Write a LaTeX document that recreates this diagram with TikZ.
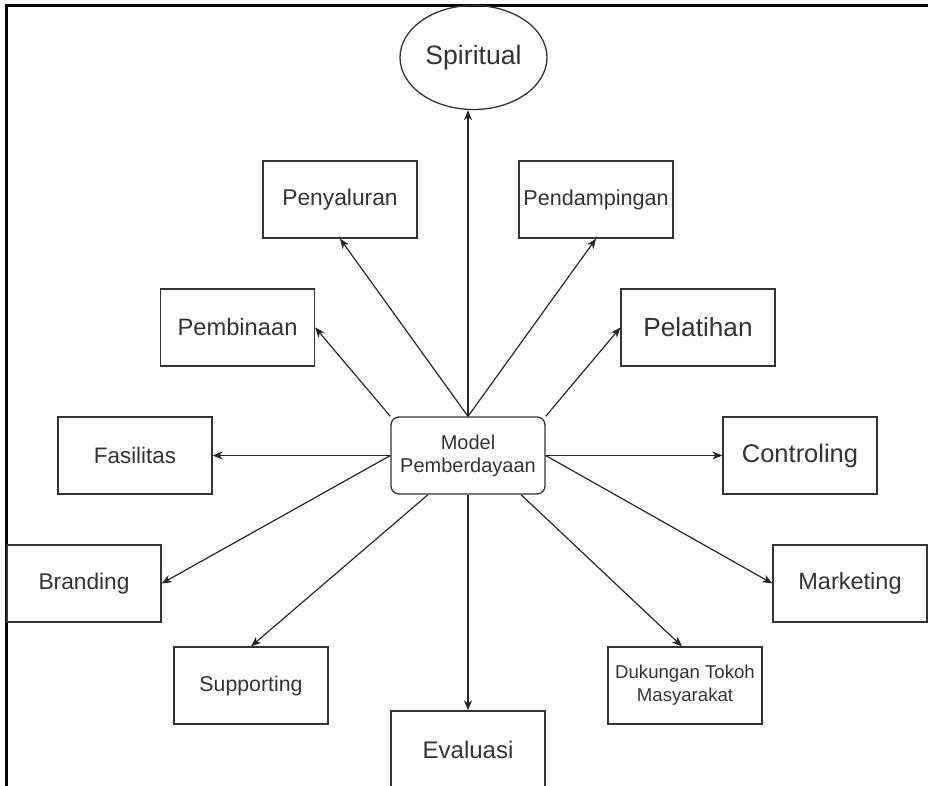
\documentclass[tikz,border=0pt]{standalone}
\usepackage{fontspec}
\setmainfont{Liberation Sans}
\usetikzlibrary{arrows.meta,shapes.geometric}
\definecolor{ink}{HTML}{333333}
\definecolor{edge}{HTML}{262626}
\tikzset{
  box/.style={draw=ink, line width=1.3pt, rectangle, minimum width=154pt,
    minimum height=77pt, inner sep=0pt, text=ink, align=center},
  fs/.style 2 args={font=\fontsize{#1}{#2}\selectfont},
  link/.style={draw=edge, line width=1.2pt,
    -{Stealth[length=10pt, width=8pt, inset=3pt]}},
}
\begin{document}
\begin{tikzpicture}[x=1pt, y=-1pt]
  \useasboundingbox (0,0) rectangle (928,786);
  \clip (0,0) rectangle (928,786);

  % outer frame: top and left edges only
  \draw[line width=2.2pt, black] (6.5,786) -- (6.5,5.5) -- (928,5.5);

  % central node
  \node[box, rounded corners=8pt, fs={20}{23.3}]
    (model) at (468,455.5) {Model\\Pemberdayaan};

  % surrounding nodes
  \node[draw=ink, line width=1.3pt, ellipse, minimum width=147pt,
    minimum height=104pt, inner sep=0pt, text=ink, fs={26.6}{32}]
    (spiritual) at (473.5,57.5) {\raisebox{-2pt}{Spiritual}};
  \node[box, fs={22.8}{27}] (penyaluran)   at (340,199.5)   {Penyaluran};
  \node[box, fs={21.6}{26}] (pendampingan) at (596,199.5)   {Pendampingan};
  \node[box, fs={23.7}{28}] (pembinaan)    at (237.5,327.5) {Pembinaan};
  \node[box, fs={26.2}{31}] (pelatihan)    at (698,327.5)   {Pelatihan};
  \node[box, fs={22.4}{27}] (fasilitas)    at (135,455.5)   {Fasilitas};
  \node[box, fs={25.5}{30}] (controling)   at (800,455.5)   {Controling};
  \node[box, fs={22.7}{27}] (branding)     at (84,583.5)    {Branding};
  \node[box, fs={23.5}{28}] (marketing)    at (850,583.5)   {Marketing};
  \node[box, fs={21.3}{26}] (supporting)   at (251,685.5)   {Supporting};
  \node[box, fs={18.6}{22.7}]
    (dukungan) at (685,685.5) {Dukungan Tokoh\\Masyarakat};
  \node[box, fs={24}{29}] (evaluasi)       at (468,749.5)   {Evaluasi};

  % connectors
  \draw[link] (model.north) -- (model.north |- spiritual.south);
  \draw[link] (model.north) -- (penyaluran.south);
  \draw[link] (model.north) -- (pendampingan.south);
  \draw[link] (model.north west) -- (pembinaan.east);
  \draw[link] (model.north east) -- (pelatihan.west);
  \draw[link] (model.west) -- (fasilitas.east);
  \draw[link] (model.east) -- (controling.west);
  \draw[link] (model.west) -- (branding.east);
  \draw[link] (model.east) -- (marketing.west);
  \draw[link] ([xshift=-40pt]model.south) -- (supporting.north);
  \draw[link] ([xshift=53pt]model.south) -- ([xshift=-3pt]dukungan.north);
  \draw[link] (model.south) -- (evaluasi.north);
\end{tikzpicture}
\end{document}
